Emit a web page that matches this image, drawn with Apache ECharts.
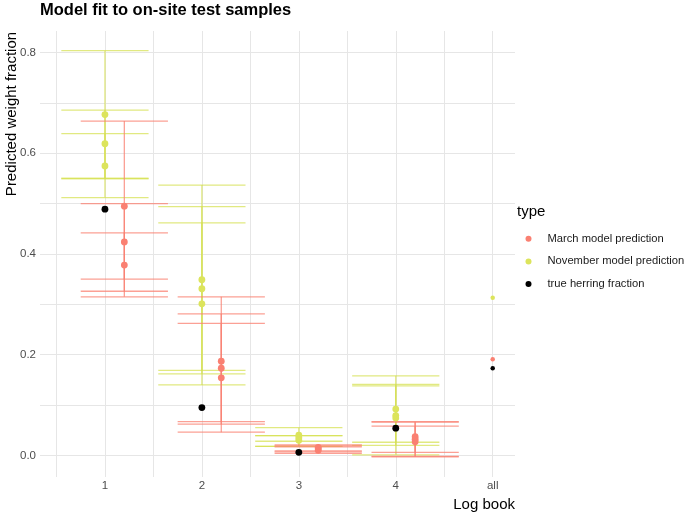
<!DOCTYPE html>
<html>
<head>
<meta charset="utf-8">
<script src="https://cdn.jsdelivr.net/npm/echarts@6/dist/echarts.min.js"></script>
<style>html,body{margin:0;padding:0;background:#fff}#c{width:685px;height:514px}</style>
</head>
<body>
<div id="c"></div>
<script>
// ---- data ----
const categories = ['1', '2', '3', '4', 'all'];
const seriesNames = ['March model prediction', 'November model prediction', 'true herring fraction'];
const yTickLabels = [0.0, 0.2, 0.4, 0.6, 0.8];

const marchGroup = [1, 1, 1, 2, 2, 2, 3, 3, 3, 4, 4, 4, 5];
const marchValue = [0.495, 0.424, 0.378, 0.187, 0.173, 0.154, 0.016, 0.013, 0.010, 0.037, 0.032, 0.027, 0.191];
const marchLower = [0.350, 0.326, 0.315, 0.067, 0.062, 0.046, 0.009, 0.007, 0.004, 0.006, -0.002, -0.003, null];
const marchUpper = [0.664, 0.500, 0.442, 0.315, 0.281, 0.262, 0.021, 0.019, 0.017, 0.067, 0.066, 0.058, null];

const novGroup = [1, 1, 1, 2, 2, 2, 3, 3, 3, 4, 4, 4, 5];
const novValue = [0.677, 0.619, 0.575, 0.349, 0.331, 0.301, 0.040, 0.035, 0.030, 0.092, 0.079, 0.074, 0.313];
const novLower = [0.550, 0.550, 0.512, 0.169, 0.162, 0.140, 0.028, 0.018, 0.018, 0.026, 0.020, 0.001, null];
const novUpper = [0.804, 0.686, 0.639, 0.537, 0.494, 0.462, 0.055, 0.039, 0.039, 0.158, 0.141, 0.138, null];

const trueGroup = [1, 2, 3, 4, 5];
const trueValue = [0.489, 0.095, 0.006, 0.054, 0.173];

// ---- styling / layout ----
const RED = '#FA8072', RED_LINE = 'rgba(250,128,114,0.75)';
const YEL = '#DCE45C', YEL_LINE = 'rgba(214,224,80,0.72)';
const BLK = '#000000';
const DODGE = 0.2, HALF = 0.45;
const FONT = '"Liberation Sans", Arial, Helvetica, sans-serif';

function xPos(g, dodge) { return g < 5 ? g + dodge : g; }

function barData(groups, lower, upper, dodge) {
  const out = [];
  groups.forEach((g, i) => {
    if (lower[i] != null && upper[i] != null) out.push([xPos(g, dodge), lower[i], upper[i]]);
  });
  return out;
}
function pointData(groups, values, dodge) {
  return groups.map((g, i) => [xPos(g, dodge), values[i], g]);
}
function makeRender(color) {
  return function (params, api) {
    const x = api.value(0), lo = api.value(1), hi = api.value(2);
    const a = api.coord([x - HALF, lo]), b = api.coord([x + HALF, lo]);
    const c = api.coord([x - HALF, hi]), d = api.coord([x + HALF, hi]);
    const v1 = api.coord([x, lo]), v2 = api.coord([x, hi]);
    const st = { stroke: color, lineWidth: 1.3 };
    return {
      type: 'group',
      children: [
        { type: 'line', shape: { x1: v1[0], y1: v1[1], x2: v2[0], y2: v2[1] }, style: st },
        { type: 'line', shape: { x1: a[0], y1: a[1], x2: b[0], y2: b[1] }, style: st },
        { type: 'line', shape: { x1: c[0], y1: c[1], x2: d[0], y2: d[1] }, style: st }
      ]
    };
  };
}
const symSize = (v) => (v[2] === 5 ? 4.5 : 6.8);

const chart = echarts.init(document.getElementById('c'), null, { renderer: 'canvas' });
chart.setOption({
  backgroundColor: '#fff',
  animation: false,
  textStyle: { fontFamily: FONT },
  title: [
    { text: 'Model fit to on-site test samples', left: 40, top: 1, padding: 0,
      textStyle: { fontFamily: FONT, fontSize: 16.5, fontWeight: 'bold', color: '#000', lineHeight: 19 } },
    { text: 'type', left: 517, top: 203, padding: 0,
      textStyle: { fontFamily: FONT, fontSize: 15, fontWeight: 'normal', color: '#000', lineHeight: 18 } }
  ],
  legend: {
    data: seriesNames,
    orient: 'vertical', left: 525.5, top: 231.7, padding: 0,
    icon: 'circle', itemWidth: 6, itemHeight: 6, itemGap: 8.7,
    textStyle: { fontFamily: FONT, fontSize: 11.2, color: '#1a1a1a', lineHeight: 14, padding: [0, 0, 0, 11] },
    selectedMode: false
  },
  grid: { left: 40, right: 170, top: 31, bottom: 37 },
  xAxis: {
    type: 'value', min: 0.33, max: 5.23,
    axisLine: { show: false },
    axisTick: { show: false, customValues: [0.5, 1, 1.5, 2, 2.5, 3, 3.5, 4, 4.5, 5] },
    axisLabel: {
      customValues: [1, 2, 3, 4, 5], margin: 3, color: '#4D4D4D', fontSize: 11.5, fontFamily: FONT,
      formatter: (v) => categories[Math.round(v) - 1]
    },
    splitLine: { show: true, lineStyle: { color: '#E6E6E6', width: 1 } }
  },
  yAxis: {
    type: 'value', min: -0.043, max: 0.843,
    axisLine: { show: false },
    axisTick: { show: false, customValues: [0, 0.1, 0.2, 0.3, 0.4, 0.5, 0.6, 0.7, 0.8] },
    axisLabel: {
      customValues: yTickLabels, margin: 4, color: '#4D4D4D', fontSize: 11.5, fontFamily: FONT,
      formatter: (v) => Number(v).toFixed(1)
    },
    splitLine: { show: true, lineStyle: { color: '#E6E6E6', width: 1 } }
  },
  graphic: [
    { type: 'text', x: 12, y: 114, rotation: Math.PI / 2,
      style: { text: 'Predicted weight fraction', fill: '#000', font: '15px ' + FONT, align: 'center', verticalAlign: 'middle' } },
    { type: 'text', x: 515, y: 505,
      style: { text: 'Log book', fill: '#000', font: '15px ' + FONT, align: 'right', verticalAlign: 'middle' } }
  ],
  series: [
    { name: 'November interval', type: 'custom', renderItem: makeRender(YEL_LINE),
      data: barData(novGroup, novLower, novUpper, 0), encode: { x: 0, y: [1, 2] }, z: 1 },
    { name: 'March interval', type: 'custom', renderItem: makeRender(RED_LINE),
      data: barData(marchGroup, marchLower, marchUpper, DODGE), encode: { x: 0, y: [1, 2] }, z: 2 },
    { name: seriesNames[0], type: 'scatter', data: pointData(marchGroup, marchValue, DODGE),
      symbolSize: symSize, itemStyle: { color: RED, opacity: 1 }, z: 3 },
    { name: seriesNames[1], type: 'scatter', data: pointData(novGroup, novValue, 0),
      symbolSize: symSize, itemStyle: { color: YEL, opacity: 1 }, z: 3 },
    { name: seriesNames[2], type: 'scatter', data: pointData(trueGroup, trueValue, 0),
      symbolSize: symSize, itemStyle: { color: BLK, opacity: 1 }, z: 4 }
  ]
});
</script>
</body>
</html>
